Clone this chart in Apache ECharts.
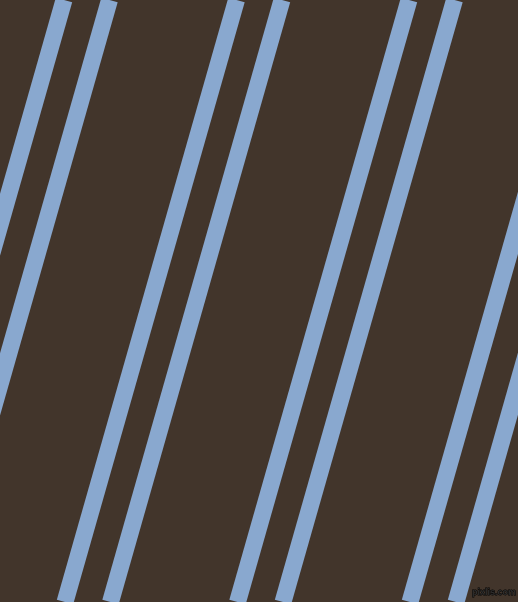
<!DOCTYPE html>
<html>
<head>
<meta charset="utf-8">
<script src="https://cdn.jsdelivr.net/npm/echarts@6/dist/echarts.min.js"></script>
<style>
html,body{margin:0;padding:0;background:#42352b;}
#c{width:518px;height:602px;}
</style>
</head>
<body>
<div id="c"></div>
<script>
// stripe centre x at the top edge (y=0) and at the bottom edge (y=602)
const stripeTopX = [64, 109.5, 236.5, 282, 409, 454.5, 581.5, 627];
const stripeBottomX = [-107.5, -62, 65, 110.5, 237.5, 283, 410, 456];
const frameY = [0, 602];
const watermark = 'pixlis.com';

const chart = echarts.init(document.getElementById('c'), null, {renderer: 'canvas'});
const series = stripeTopX.map((tx, i) => ({
  type: 'line',
  data: [[tx, frameY[0]], [stripeBottomX[i], frameY[1]]],
  symbol: 'none',
  silent: true,
  animation: false,
  clip: true,
  lineStyle: {color: '#89a8cf', width: 17, cap: 'butt'}
}));
chart.setOption({
  backgroundColor: '#42352b',
  animation: false,
  grid: {left: 0, right: 0, top: 0, bottom: 0},
  xAxis: {type: 'value', min: 0, max: 518, show: false},
  yAxis: {type: 'value', min: 0, max: 602, inverse: true, show: false},
  series: series,
  graphic: [{
    type: 'text',
    x: 472,
    y: 588,
    z: 100,
    style: {
      text: watermark,
      font: 'bold 9px "Liberation Sans", sans-serif',
      verticalAlign: 'top',
      fill: '#2e2e2e',
      stroke: '#000000',
      lineWidth: 0.8
    }
  }]
});
</script>
</body>
</html>
